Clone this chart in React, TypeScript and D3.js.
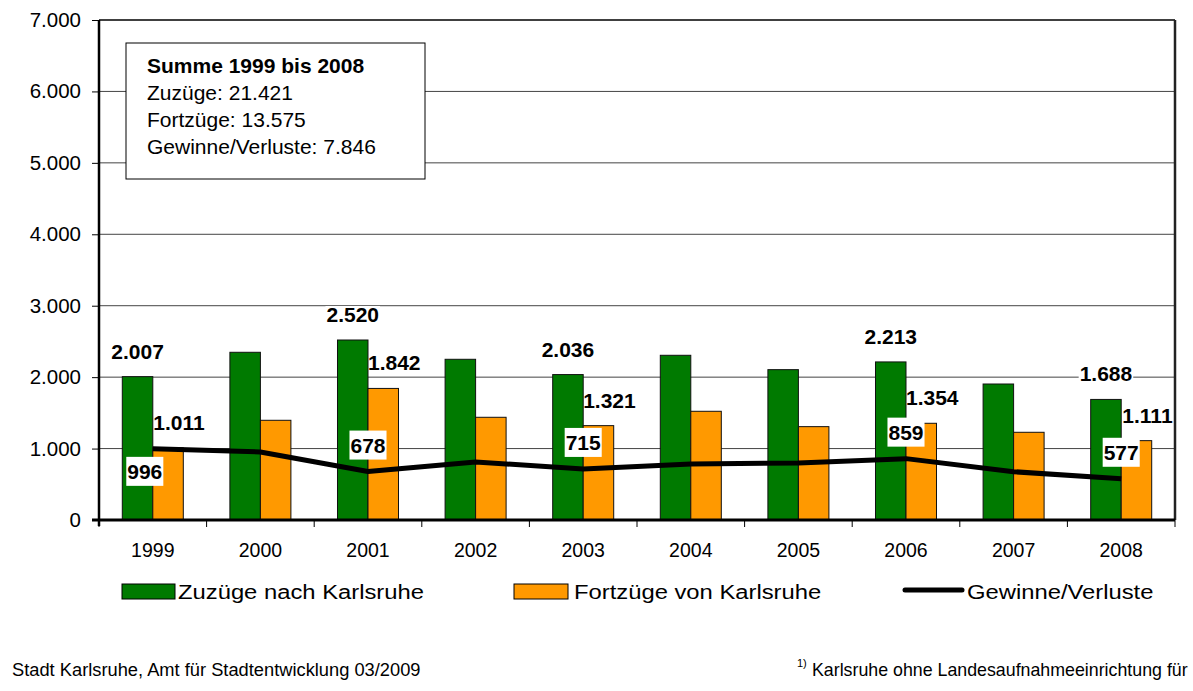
import { useEffect, useRef } from 'react';
import * as d3 from 'd3';

const years = ["1999", "2000", "2001", "2002", "2003", "2004", "2005", "2006", "2007", "2008"];
const zuzuege = [2007, 2348, 2520, 2250, 2036, 2306, 2105, 2213, 1904, 1688];
const fortzuege = [1011, 1396, 1842, 1438, 1321, 1522, 1307, 1354, 1228, 1111];
const saldo = [996, 952, 678, 812, 715, 784, 798, 859, 676, 577];
const labeledYears = ["1999", "2001", "2003", "2006", "2008"];
const yTicks = [0, 1000, 2000, 3000, 4000, 5000, 6000, 7000];
const summaryTitle = "Summe 1999 bis 2008";
const summaryLines = ["Zuzüge: 21.421", "Fortzüge: 13.575", "Gewinne/Verluste: 7.846"];
const legendLabels = ["Zuzüge nach Karlsruhe", "Fortzüge von Karlsruhe", "Gewinne/Verluste"];
const sourceText = "Stadt Karlsruhe, Amt für Stadtentwicklung 03/2009";
const noteText = "Karlsruhe ohne Landesaufnahmeeinrichtung für";

const GREEN = "#007a00";
const ORANGE = "#ff9900";
const FONT = "Liberation Sans, Arial, sans-serif";

export default function App() {
  const svgRef = useRef<SVGSVGElement>(null);

  useEffect(() => {
    if (!svgRef.current) return;
    const width = 1193;
    const height = 691;
    const left = 99, right = 1175, top = 20, bottom = 520;

    const svg = d3.select(svgRef.current);
    svg.selectAll("*").remove();
    svg.attr("font-family", FONT);

    const de = d3.formatLocale({ decimal: ",", thousands: ".", grouping: [3], currency: ["", " €"] });
    const fmt = de.format(",");

    const y = d3.scaleLinear().domain([0, 7000]).range([bottom, top]);
    const x0 = d3.scaleBand<string>().domain(years).range([left, right])
      .paddingInner(0.433).paddingOuter(0.2165);
    const x1 = d3.scaleBand<string>().domain(["z", "f"]).range([0, x0.bandwidth()]);
    const cx = (yr: string) => (x0(yr) as number) + x0.bandwidth() / 2;

    // gridlines
    svg.append("g").selectAll("line")
      .data(yTicks.filter(t => t > 0 && t < 7000))
      .join("line")
      .attr("x1", left).attr("x2", right)
      .attr("y1", d => y(d)).attr("y2", d => y(d))
      .attr("stroke", "#444").attr("stroke-width", 1);

    // frame top/right
    svg.append("line").attr("x1", left).attr("x2", right).attr("y1", y(7000)).attr("y2", y(7000))
      .attr("stroke", "#000").attr("stroke-width", 1.5);
    svg.append("line").attr("x1", right).attr("x2", right).attr("y1", y(7000)).attr("y2", bottom)
      .attr("stroke", "#222").attr("stroke-width", 2.5);

    // bars
    const bars = svg.append("g");
    years.forEach((yr, i) => {
      const g = bars.append("g").attr("transform", `translate(${x0(yr)},0)`);
      g.append("rect")
        .attr("x", x1("z") as number).attr("width", x1.bandwidth())
        .attr("y", y(zuzuege[i])).attr("height", bottom - y(zuzuege[i]))
        .attr("fill", GREEN).attr("stroke", "#111").attr("stroke-width", 1);
      g.append("rect")
        .attr("x", x1("f") as number).attr("width", x1.bandwidth())
        .attr("y", y(fortzuege[i])).attr("height", bottom - y(fortzuege[i]))
        .attr("fill", ORANGE).attr("stroke", "#111").attr("stroke-width", 1);
    });

    // line
    const line = d3.line<number>().x((_, i) => cx(years[i])).y(d => y(d));
    svg.append("path").datum(saldo).attr("d", line)
      .attr("fill", "none").attr("stroke", "#000").attr("stroke-width", 5)
      .attr("stroke-linejoin", "round");

    // value labels
    const labels = svg.append("g").attr("font-weight", "bold").attr("font-size", 21).attr("fill", "#000");
    years.forEach((yr, i) => {
      if (!labeledYears.includes(yr)) return;
      const x0v = x0(yr) as number;
      // green
      const gx = x0v + (x1("z") as number) + x1.bandwidth() / 2;
      const gy = y(zuzuege[i]) - 18;
      const gBg = labels.append("rect").attr("fill", "#fff");
      const gt = labels.append("text").attr("x", gx).attr("y", gy).attr("text-anchor", "middle").text(fmt(zuzuege[i]));
      const gw = (gt.node() as SVGTextElement).getComputedTextLength();
      gBg.attr("x", gx - gw / 2 - 1).attr("y", gy - 16).attr("width", gw + 2).attr("height", 19);
      // orange
      const ox = x0v + (x1("f") as number) + x1.bandwidth() / 2 + 11;
      const oy = y(fortzuege[i]) - 18;
      const ot = labels.append("text").attr("x", ox).attr("y", oy).attr("text-anchor", "middle").text(fmt(fortzuege[i]));
      const ow = (ot.node() as SVGTextElement).getComputedTextLength();
      // saldo in white box, above the point unless it hits the orange label
      const px = cx(yr), py = y(saldo[i]);
      const st = labels.append("text").attr("text-anchor", "middle").text(fmt(saldo[i]));
      const sw = (st.node() as SVGTextElement).getComputedTextLength() + 2;
      const bh = 29;
      let by = py - 12 - bh;
      let bxc = px;
      const overlapX = px + sw / 2 > ox - ow / 2 && px - sw / 2 < ox + ow / 2;
      const overlapY = by < oy && by + bh > oy - 16;
      if (overlapX && overlapY) { by = py + 8; bxc = px - 8; }
      labels.insert("rect", () => st.node() as Element)
        .attr("fill", "#fff")
        .attr("x", bxc - sw / 2).attr("y", by).attr("width", sw).attr("height", bh);
      st.attr("x", bxc).attr("y", by + bh / 2 + 7.5);
    });

    // summary box
    const box = svg.append("g");
    box.append("rect").attr("x", 126).attr("y", 43).attr("width", 299).attr("height", 136)
      .attr("fill", "#fff").attr("stroke", "#000").attr("stroke-width", 1);
    box.append("text").attr("x", 147).attr("y", 73).attr("font-size", 21).attr("font-weight", "bold").text(summaryTitle);
    summaryLines.forEach((s, i) => {
      box.append("text").attr("x", 147).attr("y", 100 + i * 27).attr("font-size", 21).text(s);
    });

    // y axis
    const yAxis = d3.axisLeft(y).tickValues(yTicks).tickFormat(d => fmt(d as number)).tickSize(7).tickPadding(11);
    const ya = svg.append("g").attr("transform", `translate(${left},0)`).call(yAxis);
    ya.select(".domain").attr("stroke", "#000").attr("stroke-width", 2.5).attr("d", `M0,${top}V${bottom + 6}`);
    ya.selectAll(".tick line").attr("stroke", "#000");
    ya.selectAll(".tick text").attr("font-size", 20.5).attr("font-family", FONT).attr("fill", "#000");

    // x axis
    const xa = svg.append("g");
    xa.append("line").attr("x1", left - 7).attr("x2", right).attr("y1", bottom).attr("y2", bottom)
      .attr("stroke", "#000").attr("stroke-width", 3);
    const bounds = [...years.map(yr => (x0(yr) as number) - x0.step() * 0.2165), right];
    xa.selectAll("line.tk").data(bounds).join("line").attr("class", "tk")
      .attr("x1", d => d).attr("x2", d => d).attr("y1", bottom).attr("y2", bottom + 7)
      .attr("stroke", "#000").attr("stroke-width", 1);
    xa.selectAll("text").data(years).join("text")
      .attr("x", d => cx(d)).attr("y", 557).attr("text-anchor", "middle")
      .attr("font-size", 19.5).text(d => d);

    // legend
    const lg = svg.append("g");
    const legendX = [122, 514, 905];
    lg.append("rect").attr("x", legendX[0]).attr("y", 584).attr("width", 53).attr("height", 15)
      .attr("fill", GREEN).attr("stroke", "#000");
    lg.append("rect").attr("x", legendX[1]).attr("y", 584).attr("width", 54).attr("height", 15)
      .attr("fill", ORANGE).attr("stroke", "#000");
    lg.append("line").attr("x1", legendX[2]).attr("x2", legendX[2] + 57).attr("y1", 590).attr("y2", 590)
      .attr("stroke", "#000").attr("stroke-width", 5).attr("stroke-linecap", "round");
    const textX = [178, 574, 967];
    legendLabels.forEach((s, i) => {
      lg.append("text").attr("transform", `translate(${textX[i]},599) scale(1.19,1)`)
        .attr("font-size", 20).text(s);
    });

    // footer
    svg.append("text").attr("x", 12).attr("y", 676).attr("font-size", 18.3).text(sourceText);
    const note = svg.append("text").attr("x", 797).attr("y", 676).attr("font-size", 17.8);
    note.append("tspan").attr("font-size", 11).attr("dy", -9).text("1)");
    note.append("tspan").attr("x", 812).attr("dy", 9).text(noteText);

    svg.attr("width", width).attr("height", height);
  }, []);

  return (
    <svg ref={svgRef} width={1193} height={691}
      style={{ position: "absolute", left: 0, top: 0, background: "#fff" }} />
  );
}
